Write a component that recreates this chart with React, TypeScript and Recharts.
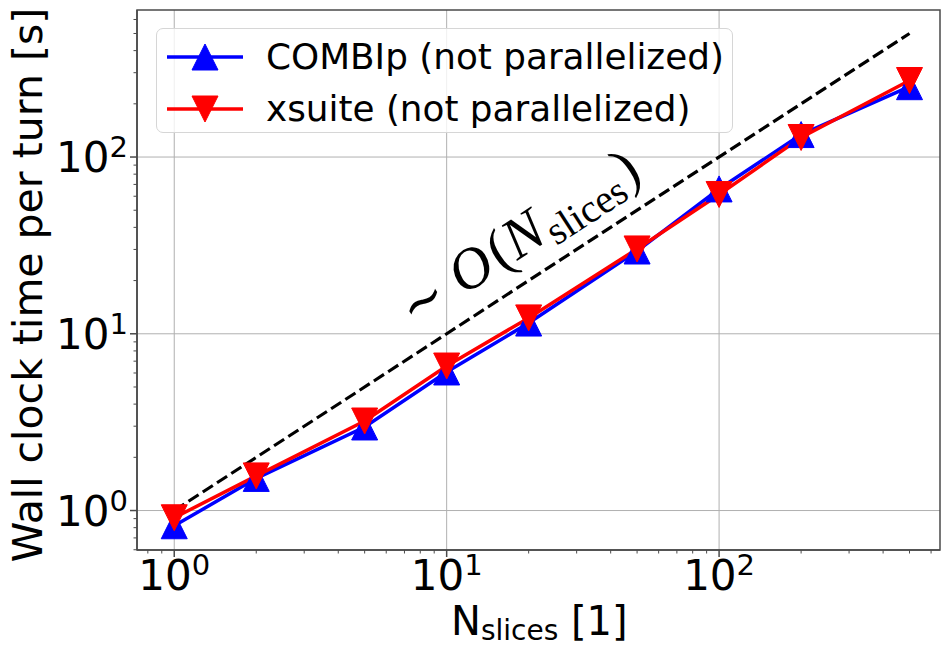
import React from 'react';
import { LineChart, Line, XAxis, YAxis, CartesianGrid, Legend, ReferenceDot, ReferenceArea } from 'recharts';

// ---- data ----
const slices = [1, 2, 5, 10, 20, 50, 100, 200, 500];
const combipTime = [0.82, 1.52, 2.97, 6.08, 11.5, 29.4, 66, 134, 250];
const xsuiteTime = [0.91, 1.57, 3.21, 6.57, 12.3, 30.2, 61.4, 129, 271];
const scalingX = [1, 500];
const scalingY = [1, 500];
const seriesNames = ['COMBIp (not parallelized)', 'xsuite (not parallelized)'];
const seriesColors = ['#0000ff', '#ff0000'];

const xMajorTicks = [1, 10, 100];
const xMinorTicks = [0.8, 0.9, 2, 3, 4, 5, 6, 7, 8, 9, 20, 30, 40, 50, 60, 70, 80, 90, 200, 300, 400, 500, 600];
const yMajorTicks = [1, 10, 100];
const yMinorTicks = [0.6, 0.7, 0.8, 0.9, 2, 3, 4, 5, 6, 7, 8, 9, 20, 30, 40, 50, 60, 70, 80, 90, 200, 300, 400, 500, 600];
const xDomain = [0.73, 647];
const yDomain = [0.598, 679];

const annotationX = 20.0;
const annotationY = 28.5;

const xLabelMain = 'N';
const xLabelSub = 'slices';
const xLabelTail = ' [1]';
const yLabel = 'Wall clock time per turn [s]';

const data = slices.map((s, i) => ({ x: s, combip: combipTime[i], xsuite: xsuiteTime[i] }));
const refData = scalingX.map((x, i) => ({ x, y: scalingY[i] }));
const xTicks = [...xMajorTicks, ...xMinorTicks].sort((a, b) => a - b);
const yTicks = [...yMajorTicks, ...yMinorTicks].sort((a, b) => a - b);

const FONT = "'DejaVu Sans', sans-serif";
const FRAME = '#4a4a4a';

const isMajor = (v: number) => Math.abs(Math.log10(v) - Math.round(Math.log10(v))) < 1e-9;

const XTick = (props: any) => {
  const { x, y, payload } = props;
  const v = payload.value;
  const major = isMajor(v);
  return (
    <g>
      <line x1={x} x2={x} y1={y} y2={y + (major ? 7 : 3.5)} stroke={FRAME} strokeWidth={major ? 1.5 : 1} />
      {major && (
        <text x={x} y={y + 40} textAnchor="middle" fontFamily={FONT} fontSize={42} fill="#000">
          10
          <tspan dy={-15} fontSize={29}>{Math.round(Math.log10(v))}</tspan>
        </text>
      )}
    </g>
  );
};

const YTick = (props: any) => {
  const { x, y, payload } = props;
  const v = payload.value;
  const major = isMajor(v);
  return (
    <g>
      <line x1={x} x2={x - (major ? 7 : 3.5)} y1={y} y2={y} stroke={FRAME} strokeWidth={major ? 1.5 : 1} />
      {major && (
        <text x={x - 9} y={y + 15} textAnchor="end" fontFamily={FONT} fontSize={42} fill="#000">
          10
          <tspan dy={-15} fontSize={29}>{Math.round(Math.log10(v))}</tspan>
        </text>
      )}
    </g>
  );
};

const TriUp = (props: any) => {
  const { cx, cy, fill } = props;
  if (cx == null || cy == null) return null;
  const h = 13;
  return <path d={`M${cx},${cy - h} L${cx - h},${cy + h} L${cx + h},${cy + h} Z`} fill={fill} stroke={fill} strokeWidth={1} />;
};
const TriDown = (props: any) => {
  const { cx, cy, fill } = props;
  if (cx == null || cy == null) return null;
  const h = 13;
  return <path d={`M${cx},${cy + h} L${cx - h},${cy - h} L${cx + h},${cy - h} Z`} fill={fill} stroke={fill} strokeWidth={1} />;
};

const YLabel = () => (
  <text x={42} y={285} transform="rotate(-90, 42, 285)" textAnchor="middle" fontFamily={FONT} fontSize={41} fill="#000">
    {yLabel}
  </text>
);

const XLabel = () => (
  <text x={451} y={635} textAnchor="start" fontFamily={FONT} fontSize={40} fill="#000">
    {xLabelMain}
    <tspan fontSize={28} dy={5}>{xLabelSub}</tspan>
    <tspan dy={-5}>{xLabelTail}</tspan>
  </text>
);

const Annotation = (props: any) => {
  const vb = props.viewBox || {};
  const cx = vb.x + (vb.width || 0) / 2;
  const cy = vb.y + (vb.height || 0) / 2;
  return (
    <text x={cx} y={cy} transform={`rotate(-33, ${cx}, ${cy})`} textAnchor="middle" fontFamily="'Liberation Serif', serif" fontSize={58} fill="#000">
      <tspan fontFamily="'DejaVu Serif', serif" fontSize={54}>∼</tspan>
      <tspan> </tspan>
      <tspan fontStyle="italic">O</tspan>
      <tspan dx={3}>(</tspan>
      <tspan fontStyle="italic">N</tspan>
      <tspan fontSize={40} dy={9} dx={2}>slices</tspan>
      <tspan dy={-9} dx={2}>)</tspan>
    </text>
  );
};

const LegendBox = () => (
  <div
    style={{
      position: 'relative',
      width: 577,
      height: 105,
      boxSizing: 'border-box',
      border: '1.5px solid #d6d6d6',
      borderRadius: 7,
      background: 'rgba(255,255,255,0.8)',
    }}
  >
    {seriesNames.map((name, i) => (
      <div key={name} style={{ position: 'absolute', left: 0, top: (i === 0 ? 29 : 81) - 20 - 1.5, height: 40, width: 570 }}>
        <svg width={77} height={40} style={{ position: 'absolute', left: 9.5, top: 0 }}>
          <line x1={0} x2={76} y1={20} y2={20} stroke={seriesColors[i]} strokeWidth={3.5} />
          {i === 0 ? <TriUp cx={38} cy={20} fill={seriesColors[i]} /> : <TriDown cx={38} cy={20} fill={seriesColors[i]} />}
        </svg>
        <div
          style={{
            position: 'absolute',
            left: 109,
            top: 0,
            height: 40,
            lineHeight: '40px',
            fontFamily: FONT,
            fontSize: 35.8,
            color: '#000',
            whiteSpace: 'nowrap',
          }}
        >
          {name}
        </div>
      </div>
    ))}
  </div>
);

export default function App() {
  return (
    <div style={{ position: 'absolute', left: 0, top: 0, width: 941, height: 646, background: '#fff' }}>
      <LineChart width={941} height={646} data={data} margin={{ top: 10, right: 1, left: 0, bottom: 0 }}>
        <CartesianGrid stroke="#b0b0b0" strokeWidth={1} horizontalValues={yMajorTicks} verticalValues={xMajorTicks} />
        <XAxis
          dataKey="x"
          type="number"
          scale="log"
          domain={xDomain}
          allowDataOverflow
          ticks={xTicks}
          interval={0}
          tickSize={0}
          tickMargin={0}
          tickLine={false}
          tick={<XTick />}
          height={96}
          axisLine={{ stroke: FRAME, strokeWidth: 1.5 }}
          label={<XLabel />}
        />
        <YAxis
          type="number"
          scale="log"
          domain={yDomain}
          allowDataOverflow
          ticks={yTicks}
          interval={0}
          tickSize={0}
          tickMargin={0}
          tickLine={false}
          tick={<YTick />}
          width={137}
          axisLine={{ stroke: FRAME, strokeWidth: 1.5 }}
          label={<YLabel />}
        />
        <ReferenceArea
          x1={xDomain[0]}
          x2={xDomain[1]}
          y1={yDomain[0]}
          y2={yDomain[1]}
          fill="none"
          fillOpacity={0}
          stroke={FRAME}
          strokeWidth={1.5}
          ifOverflow="visible"
        />
        <Line
          dataKey="combip"
          name={seriesNames[0]}
          stroke={seriesColors[0]}
          strokeWidth={3.5}
          isAnimationActive={false}
          activeDot={false}
          dot={(p: any) => <TriUp key={`u${p.index}`} cx={p.cx} cy={p.cy} fill={seriesColors[0]} />}
        />
        <Line
          dataKey="xsuite"
          name={seriesNames[1]}
          stroke={seriesColors[1]}
          strokeWidth={3.5}
          isAnimationActive={false}
          activeDot={false}
          dot={(p: any) => <TriDown key={`d${p.index}`} cx={p.cx} cy={p.cy} fill={seriesColors[1]} />}
        />
        <Line
          data={refData}
          dataKey="y"
          stroke="#000"
          strokeWidth={3.2}
          strokeDasharray="12 5"
          isAnimationActive={false}
          activeDot={false}
          dot={false}
          legendType="none"
        />
        <ReferenceDot x={annotationX} y={annotationY} r={0} fill="none" stroke="none" label={<Annotation />} />
        <Legend
          layout="vertical"
          align="center"
          verticalAlign="middle"
          content={<LegendBox />}
          wrapperStyle={{ left: 156, top: 28, width: 577, height: 105 }}
        />
      </LineChart>
    </div>
  );
}
